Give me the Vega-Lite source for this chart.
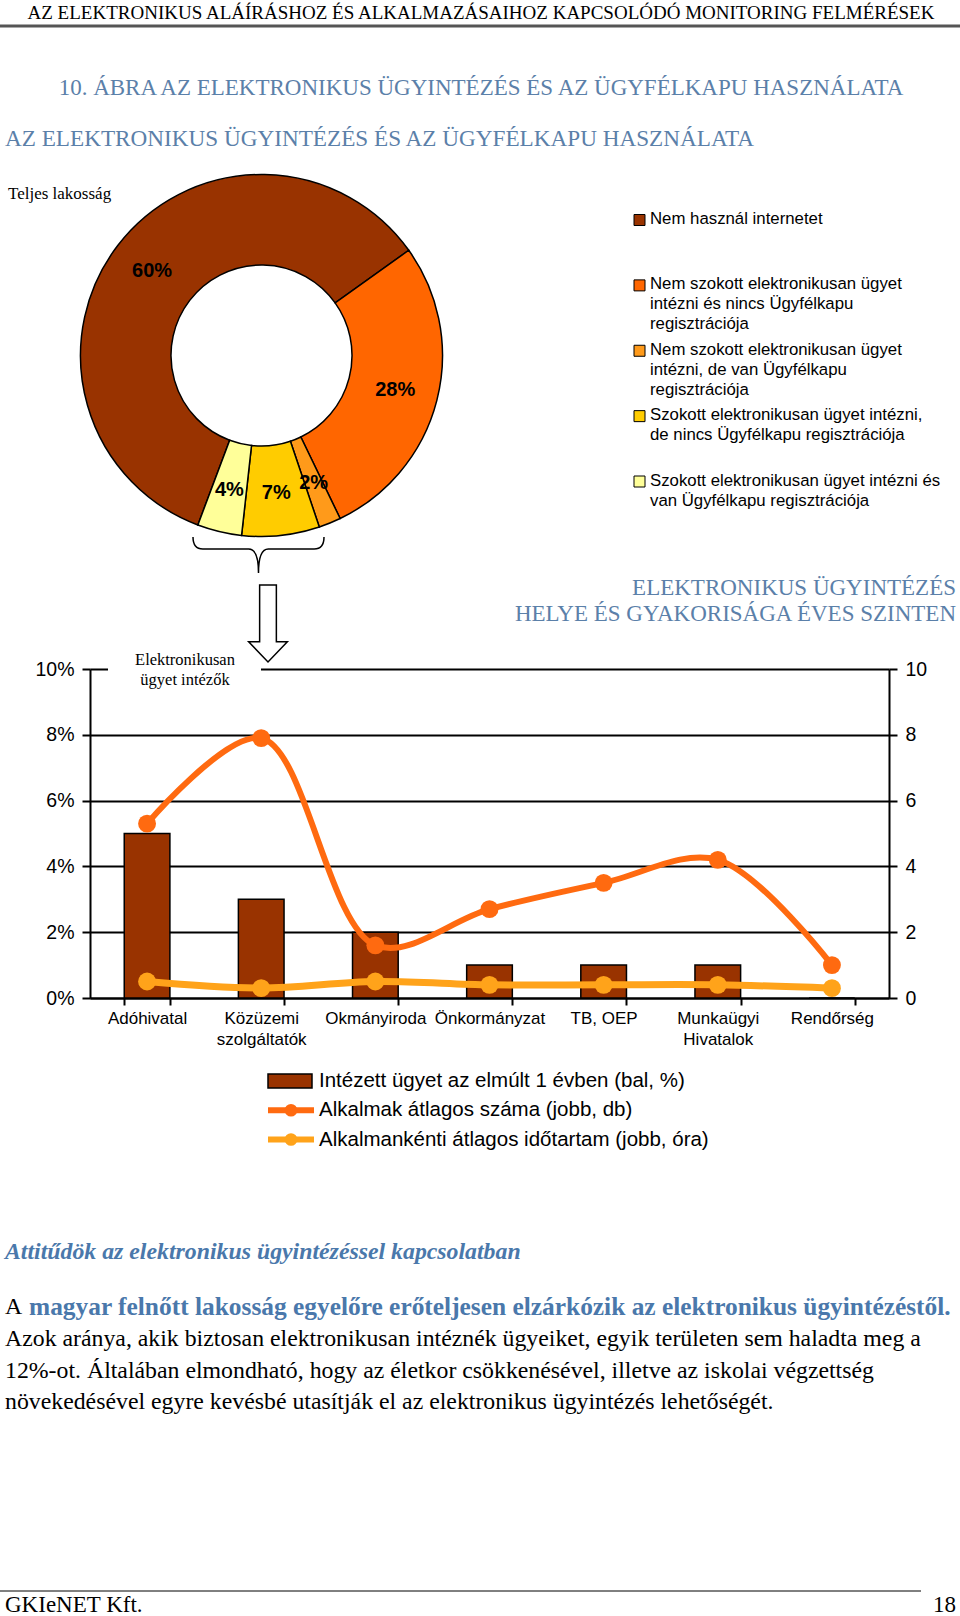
{
  "$schema": "https://vega.github.io/schema/vega-lite/v6.json",
  "width": 960,
  "height": 1616,
  "autosize": {"type": "none"},
  "padding": 0,
  "background": "white",
  "config": {
    "view": {"stroke": null},
    "axis": {"domainColor": "black", "tickColor": "black", "gridColor": "black", "labelColor": "black", "labelFont": "Liberation Sans"}
  },
  "data": {"values": [{}]},
  "datasets": {
    "slices": [
      {"cat": "Nem használ internetet", "label": "Nem használ internetet", "pct": 0.60, "seq": 1},
      {"cat": "Nem szokott elektronikusan ügyet intézni és nincs Ügyfélkapu regisztrációja", "label": "Nem szokott elektronikusan ügyet\nintézni és nincs Ügyfélkapu\nregisztrációja", "pct": 0.28, "seq": 2},
      {"cat": "Nem szokott elektronikusan ügyet intézni, de van Ügyfélkapu regisztrációja", "label": "Nem szokott elektronikusan ügyet\nintézni, de van Ügyfélkapu\nregisztrációja", "pct": 0.02, "seq": 3},
      {"cat": "Szokott elektronikusan ügyet intézni, de nincs Ügyfélkapu regisztrációja", "label": "Szokott elektronikusan ügyet intézni,\nde nincs Ügyfélkapu regisztrációja", "pct": 0.07, "seq": 4},
      {"cat": "Szokott elektronikusan ügyet intézni és van Ügyfélkapu regisztrációja", "label": "Szokott elektronikusan ügyet intézni és\nvan Ügyfélkapu regisztrációja", "pct": 0.04, "seq": 5}
    ],
    "offices": [
      {"office": "Adóhivatal", "pct": 5, "count": 5.3, "hours": 0.5},
      {"office": "Közüzemi szolgáltatók", "pct": 3, "count": 7.9, "hours": 0.3},
      {"office": "Okmányiroda", "pct": 2, "count": 1.6, "hours": 0.5},
      {"office": "Önkormányzat", "pct": 1, "count": 2.7, "hours": 0.4},
      {"office": "TB, OEP", "pct": 1, "count": 3.5, "hours": 0.4},
      {"office": "Munkaügyi Hivatalok", "pct": 1, "count": 4.2, "hours": 0.4},
      {"office": "Rendőrség", "pct": 0, "count": 1.0, "hours": 0.3}
    ],
    "series": [
      {"s": "Intézett ügyet az elmúlt 1 évben (bal, %)", "kind": "bar"},
      {"s": "Alkalmak átlagos száma (jobb, db)", "kind": "line"},
      {"s": "Alkalmankénti átlagos időtartam (jobb, óra)", "kind": "line"}
    ]
  },
  "layer": [
    {
      "layer": [
        {
          "mark": {"type": "text", "font": "Liberation Serif", "fontSize": 19, "color": "black"},
          "encoding": {
            "x": {"datum": 481, "type": "quantitative", "scale": {"domain": [0, 960], "range": [0, 960], "nice": false, "zero": false}, "axis": null},
            "y": {"datum": 13, "type": "quantitative", "scale": {"domain": [0, 1616], "range": [0, 1616], "nice": false, "zero": false}, "axis": null},
            "text": {"value": "AZ ELEKTRONIKUS ALÁÍRÁSHOZ ÉS ALKALMAZÁSAIHOZ KAPCSOLÓDÓ MONITORING FELMÉRÉSEK"}
          }
        },
        {
          "mark": {"type": "rule", "color": "#555555", "strokeWidth": 3},
          "encoding": {
            "x": {"datum": 0, "type": "quantitative", "scale": {"domain": [0, 960], "range": [0, 960], "nice": false, "zero": false}, "axis": null},
            "x2": {"datum": 960},
            "y": {"datum": 26, "type": "quantitative", "scale": {"domain": [0, 1616], "range": [0, 1616], "nice": false, "zero": false}, "axis": null}
          }
        },
        {
          "mark": {"type": "text", "font": "Liberation Serif", "fontSize": 23, "color": "#5b80a9"},
          "encoding": {
            "x": {"datum": 481, "type": "quantitative", "scale": {"domain": [0, 960], "range": [0, 960], "nice": false, "zero": false}, "axis": null},
            "y": {"datum": 88, "type": "quantitative", "scale": {"domain": [0, 1616], "range": [0, 1616], "nice": false, "zero": false}, "axis": null},
            "text": {"value": "10. ÁBRA AZ ELEKTRONIKUS ÜGYINTÉZÉS ÉS AZ ÜGYFÉLKAPU HASZNÁLATA"}
          }
        },
        {
          "mark": {"type": "text", "font": "Liberation Serif", "fontSize": 23.2, "color": "#5b80a9", "align": "left"},
          "encoding": {
            "x": {"datum": 5, "type": "quantitative", "scale": {"domain": [0, 960], "range": [0, 960], "nice": false, "zero": false}, "axis": null},
            "y": {"datum": 139, "type": "quantitative", "scale": {"domain": [0, 1616], "range": [0, 1616], "nice": false, "zero": false}, "axis": null},
            "text": {"value": "AZ ELEKTRONIKUS ÜGYINTÉZÉS ÉS AZ ÜGYFÉLKAPU HASZNÁLATA"}
          }
        },
        {
          "mark": {"type": "text", "font": "Liberation Serif", "fontSize": 17, "color": "black", "align": "left"},
          "encoding": {
            "x": {"datum": 8, "type": "quantitative", "scale": {"domain": [0, 960], "range": [0, 960], "nice": false, "zero": false}, "axis": null},
            "y": {"datum": 194, "type": "quantitative", "scale": {"domain": [0, 1616], "range": [0, 1616], "nice": false, "zero": false}, "axis": null},
            "text": {"value": "Teljes lakosság"}
          }
        },
        {
          "data": {"name": "slices"},
          "mark": {"type": "arc", "innerRadius": 90.5, "outerRadius": 181, "stroke": "black", "strokeWidth": 1.5},
          "encoding": {
            "x": {"datum": 261.5, "type": "quantitative", "scale": {"domain": [0, 960], "range": [0, 960], "nice": false, "zero": false}, "axis": null},
            "y": {"datum": 355.5, "type": "quantitative", "scale": {"domain": [0, 1616], "range": [0, 1616], "nice": false, "zero": false}, "axis": null},
            "theta": {"field": "pct", "type": "quantitative", "stack": true, "scale": {"domain": [0, 1.01], "range": [3.501, 9.784], "nice": false, "zero": true}},
            "order": {"field": "seq", "type": "quantitative"},
            "color": {
              "field": "cat", "type": "nominal", "legend": null,
              "scale": {
                "domain": ["Nem használ internetet", "Nem szokott elektronikusan ügyet intézni és nincs Ügyfélkapu regisztrációja", "Nem szokott elektronikusan ügyet intézni, de van Ügyfélkapu regisztrációja", "Szokott elektronikusan ügyet intézni, de nincs Ügyfélkapu regisztrációja", "Szokott elektronikusan ügyet intézni és van Ügyfélkapu regisztrációja"],
                "range": ["#993300", "#ff6600", "#ff9a1a", "#ffcc00", "#ffff99"]
              }
            }
          }
        },
        {
          "data": {"name": "slices"},
          "mark": {"type": "text", "radius": 138, "font": "Liberation Sans", "fontWeight": "bold", "fontSize": 20, "color": "black"},
          "encoding": {
            "x": {"datum": 261.5, "type": "quantitative", "scale": {"domain": [0, 960], "range": [0, 960], "nice": false, "zero": false}, "axis": null},
            "y": {"datum": 355.5, "type": "quantitative", "scale": {"domain": [0, 1616], "range": [0, 1616], "nice": false, "zero": false}, "axis": null},
            "theta": {"field": "pct", "type": "quantitative", "stack": true},
            "order": {"field": "seq", "type": "quantitative"},
            "text": {"field": "pct", "type": "quantitative", "format": ".0%"}
          }
        },
        {
          "mark": {"type": "point", "shape": "M -1 -0.275 Q -1 -0.092 -0.85 -0.092 L -0.15 -0.092 Q 0 -0.092 0 0.275 Q 0 -0.092 0.15 -0.092 L 0.85 -0.092 Q 1 -0.092 1 -0.275", "size": 17161, "filled": false, "stroke": "black", "strokeWidth": 1.5, "opacity": 1},
          "encoding": {
            "x": {"datum": 258.5, "type": "quantitative", "scale": {"domain": [0, 960], "range": [0, 960], "nice": false, "zero": false}, "axis": null},
            "y": {"datum": 555, "type": "quantitative", "scale": {"domain": [0, 1616], "range": [0, 1616], "nice": false, "zero": false}, "axis": null}
          }
        },
        {
          "mark": {"type": "point", "shape": "M -0.209 -0.9625 L 0.209 -0.9625 L 0.209 0.455 L 0.484 0.455 L 0 0.9625 L -0.484 0.455 L -0.209 0.455 Z", "size": 6400, "filled": true, "fill": "white", "stroke": "black", "strokeWidth": 1.5, "opacity": 1},
          "encoding": {
            "x": {"datum": 268, "type": "quantitative", "scale": {"domain": [0, 960], "range": [0, 960], "nice": false, "zero": false}, "axis": null},
            "y": {"datum": 623.5, "type": "quantitative", "scale": {"domain": [0, 1616], "range": [0, 1616], "nice": false, "zero": false}, "axis": null}
          }
        },
        {
          "mark": {"type": "text", "font": "Liberation Serif", "fontSize": 23, "color": "#5b80a9", "align": "right"},
          "encoding": {
            "x": {"datum": 956, "type": "quantitative", "scale": {"domain": [0, 960], "range": [0, 960], "nice": false, "zero": false}, "axis": null},
            "y": {"datum": 588, "type": "quantitative", "scale": {"domain": [0, 1616], "range": [0, 1616], "nice": false, "zero": false}, "axis": null},
            "text": {"value": "ELEKTRONIKUS ÜGYINTÉZÉS"}
          }
        },
        {
          "mark": {"type": "text", "font": "Liberation Serif", "fontSize": 23, "color": "#5b80a9", "align": "right"},
          "encoding": {
            "x": {"datum": 956, "type": "quantitative", "scale": {"domain": [0, 960], "range": [0, 960], "nice": false, "zero": false}, "axis": null},
            "y": {"datum": 614, "type": "quantitative", "scale": {"domain": [0, 1616], "range": [0, 1616], "nice": false, "zero": false}, "axis": null},
            "text": {"value": "HELYE ÉS GYAKORISÁGA ÉVES SZINTEN"}
          }
        },
        {
          "mark": {"type": "rect", "color": "white"},
          "encoding": {
            "x": {"datum": 108, "type": "quantitative", "scale": {"domain": [0, 960], "range": [0, 960], "nice": false, "zero": false}, "axis": null},
            "x2": {"datum": 261},
            "y": {"datum": 663, "type": "quantitative", "scale": {"domain": [0, 1616], "range": [0, 1616], "nice": false, "zero": false}, "axis": null},
            "y2": {"datum": 675}
          }
        },
        {
          "mark": {"type": "text", "font": "Liberation Serif", "fontSize": 16.5, "color": "black"},
          "encoding": {
            "x": {"datum": 185, "type": "quantitative", "scale": {"domain": [0, 960], "range": [0, 960], "nice": false, "zero": false}, "axis": null},
            "y": {"datum": 660, "type": "quantitative", "scale": {"domain": [0, 1616], "range": [0, 1616], "nice": false, "zero": false}, "axis": null},
            "text": {"value": "Elektronikusan"}
          }
        },
        {
          "mark": {"type": "text", "font": "Liberation Serif", "fontSize": 16.5, "color": "black"},
          "encoding": {
            "x": {"datum": 185, "type": "quantitative", "scale": {"domain": [0, 960], "range": [0, 960], "nice": false, "zero": false}, "axis": null},
            "y": {"datum": 680, "type": "quantitative", "scale": {"domain": [0, 1616], "range": [0, 1616], "nice": false, "zero": false}, "axis": null},
            "text": {"value": "ügyet intézők"}
          }
        },
        {
          "mark": {"type": "text", "font": "Liberation Serif", "fontSize": 23.8, "fontWeight": "bold", "fontStyle": "italic", "color": "#4a78ab", "align": "left"},
          "encoding": {
            "x": {"datum": 5, "type": "quantitative", "scale": {"domain": [0, 960], "range": [0, 960], "nice": false, "zero": false}, "axis": null},
            "y": {"datum": 1252, "type": "quantitative", "scale": {"domain": [0, 1616], "range": [0, 1616], "nice": false, "zero": false}, "axis": null},
            "text": {"value": "Attitűdök az elektronikus ügyintézéssel kapcsolatban"}
          }
        },
        {
          "mark": {"type": "text", "font": "Liberation Serif", "fontSize": 23.8, "color": "black", "align": "left"},
          "encoding": {
            "x": {"datum": 5, "type": "quantitative", "scale": {"domain": [0, 960], "range": [0, 960], "nice": false, "zero": false}, "axis": null},
            "y": {"datum": 1307, "type": "quantitative", "scale": {"domain": [0, 1616], "range": [0, 1616], "nice": false, "zero": false}, "axis": null},
            "text": {"value": "A"}
          }
        },
        {
          "mark": {"type": "text", "font": "Liberation Serif", "fontSize": 25.4, "fontWeight": "bold", "color": "#4a78ab", "align": "left"},
          "encoding": {
            "x": {"datum": 29, "type": "quantitative", "scale": {"domain": [0, 960], "range": [0, 960], "nice": false, "zero": false}, "axis": null},
            "y": {"datum": 1307, "type": "quantitative", "scale": {"domain": [0, 1616], "range": [0, 1616], "nice": false, "zero": false}, "axis": null},
            "text": {"value": "magyar felnőtt lakosság egyelőre erőteljesen elzárkózik az elektronikus ügyintézéstől."}
          }
        },
        {
          "mark": {"type": "text", "font": "Liberation Serif", "fontSize": 23.8, "color": "black", "align": "left"},
          "encoding": {
            "x": {"datum": 5, "type": "quantitative", "scale": {"domain": [0, 960], "range": [0, 960], "nice": false, "zero": false}, "axis": null},
            "y": {"datum": 1339, "type": "quantitative", "scale": {"domain": [0, 1616], "range": [0, 1616], "nice": false, "zero": false}, "axis": null},
            "text": {"value": "Azok aránya, akik biztosan elektronikusan intéznék ügyeiket, egyik területen sem haladta meg a"}
          }
        },
        {
          "mark": {"type": "text", "font": "Liberation Serif", "fontSize": 23.8, "color": "black", "align": "left"},
          "encoding": {
            "x": {"datum": 5, "type": "quantitative", "scale": {"domain": [0, 960], "range": [0, 960], "nice": false, "zero": false}, "axis": null},
            "y": {"datum": 1371, "type": "quantitative", "scale": {"domain": [0, 1616], "range": [0, 1616], "nice": false, "zero": false}, "axis": null},
            "text": {"value": "12%-ot. Általában elmondható, hogy az életkor csökkenésével, illetve az iskolai végzettség"}
          }
        },
        {
          "mark": {"type": "text", "font": "Liberation Serif", "fontSize": 23.8, "color": "black", "align": "left"},
          "encoding": {
            "x": {"datum": 5, "type": "quantitative", "scale": {"domain": [0, 960], "range": [0, 960], "nice": false, "zero": false}, "axis": null},
            "y": {"datum": 1402, "type": "quantitative", "scale": {"domain": [0, 1616], "range": [0, 1616], "nice": false, "zero": false}, "axis": null},
            "text": {"value": "növekedésével egyre kevésbé utasítják el az elektronikus ügyintézés lehetőségét."}
          }
        },
        {
          "mark": {"type": "rule", "color": "black", "strokeWidth": 1},
          "encoding": {
            "x": {"datum": 0, "type": "quantitative", "scale": {"domain": [0, 960], "range": [0, 960], "nice": false, "zero": false}, "axis": null},
            "x2": {"datum": 921},
            "y": {"datum": 1591, "type": "quantitative", "scale": {"domain": [0, 1616], "range": [0, 1616], "nice": false, "zero": false}, "axis": null}
          }
        },
        {
          "mark": {"type": "text", "font": "Liberation Serif", "fontSize": 23, "color": "black", "align": "left"},
          "encoding": {
            "x": {"datum": 5, "type": "quantitative", "scale": {"domain": [0, 960], "range": [0, 960], "nice": false, "zero": false}, "axis": null},
            "y": {"datum": 1605, "type": "quantitative", "scale": {"domain": [0, 1616], "range": [0, 1616], "nice": false, "zero": false}, "axis": null},
            "text": {"value": "GKIeNET Kft."}
          }
        },
        {
          "mark": {"type": "text", "font": "Liberation Serif", "fontSize": 23, "color": "black", "align": "right"},
          "encoding": {
            "x": {"datum": 956, "type": "quantitative", "scale": {"domain": [0, 960], "range": [0, 960], "nice": false, "zero": false}, "axis": null},
            "y": {"datum": 1605, "type": "quantitative", "scale": {"domain": [0, 1616], "range": [0, 1616], "nice": false, "zero": false}, "axis": null},
            "text": {"value": "18"}
          }
        }
      ]
    },
    {
      "data": {"name": "slices"},
      "layer": [
        {
          "mark": {"type": "point", "shape": "square", "filled": true, "size": 121, "stroke": "black", "strokeWidth": 1, "opacity": 1},
          "encoding": {
            "x": {"datum": 639.5, "type": "quantitative", "scale": {"domain": [0, 960], "range": [0, 960], "nice": false, "zero": false}, "axis": null},
            "y": {"field": "cat", "type": "nominal", "sort": null, "axis": null, "scale": {"type": "point", "domain": ["Nem használ internetet", "Nem szokott elektronikusan ügyet intézni és nincs Ügyfélkapu regisztrációja", "Nem szokott elektronikusan ügyet intézni, de van Ügyfélkapu regisztrációja", "Szokott elektronikusan ügyet intézni, de nincs Ügyfélkapu regisztrációja", "Szokott elektronikusan ügyet intézni és van Ügyfélkapu regisztrációja"], "range": [220, 481.5], "padding": 0}},
            "color": {
              "field": "cat", "type": "nominal", "legend": null,
              "scale": {
                "domain": ["Nem használ internetet", "Nem szokott elektronikusan ügyet intézni és nincs Ügyfélkapu regisztrációja", "Nem szokott elektronikusan ügyet intézni, de van Ügyfélkapu regisztrációja", "Szokott elektronikusan ügyet intézni, de nincs Ügyfélkapu regisztrációja", "Szokott elektronikusan ügyet intézni és van Ügyfélkapu regisztrációja"],
                "range": ["#993300", "#ff6600", "#ff9a1a", "#ffcc00", "#ffff99"]
              }
            }
          }
        },
        {
          "mark": {"type": "text", "font": "Liberation Sans", "fontSize": 16.8, "color": "black", "align": "left", "baseline": "top", "dy": -9, "lineBreak": "\n", "lineHeight": 20},
          "encoding": {
            "x": {"datum": 650, "type": "quantitative", "scale": {"domain": [0, 960], "range": [0, 960], "nice": false, "zero": false}, "axis": null},
            "y": {"field": "cat", "type": "nominal", "sort": null, "axis": null},
            "text": {"field": "label"}
          }
        }
      ]
    },
    {
      "data": {"name": "offices"},
      "encoding": {
        "x": {
          "field": "office", "type": "nominal", "sort": null,
          "scale": {"type": "band", "domain": ["Adóhivatal", "Közüzemi szolgáltatók", "Okmányiroda", "Önkormányzat", "TB, OEP", "Munkaügyi Hivatalok", "Rendőrség"], "range": [90, 889], "paddingInner": 0.6, "paddingOuter": 0.3},
          "axis": {"orient": "bottom", "offset": -618, "title": null, "domainWidth": 2, "tickBand": "extent", "tickSize": 7, "tickWidth": 2, "labelFontSize": 17, "labelPadding": 5, "labelLineHeight": 21, "labelAngle": 0, "labelBaseline": "top", "grid": false, "labelExpr": "datum.label == 'TB, OEP' ? datum.label : split(datum.label, ' ')"}
        }
      },
      "layer": [
        {
          "mark": {"type": "bar", "color": "#993300", "stroke": "black", "strokeWidth": 1.5},
          "encoding": {
            "y": {"field": "pct", "type": "quantitative", "scale": {"domain": [0, 10], "range": [998, 669], "nice": false}, "axis": {"orient": "left", "offset": -90, "title": null, "values": [0, 2, 4, 6, 8, 10], "labelExpr": "datum.value + '%'", "grid": true, "gridWidth": 2, "domainWidth": 2, "tickSize": 8, "tickWidth": 2, "labelFontSize": 19.5, "labelPadding": 8}}
          }
        },
        {
          "mark": {"type": "line", "color": "#ff6a10", "strokeWidth": 6, "interpolate": "catmull-rom", "point": {"filled": true, "size": 320, "color": "#ff6a10", "opacity": 1}},
          "encoding": {
            "y": {"field": "count", "type": "quantitative", "scale": {"domain": [0, 10], "range": [998, 669], "nice": false}, "axis": {"orient": "right", "offset": -71, "title": null, "values": [0, 2, 4, 6, 8, 10], "grid": false, "domainWidth": 2, "tickSize": 8, "tickWidth": 2, "labelFontSize": 19.5, "labelPadding": 8}}
          }
        },
        {
          "mark": {"type": "line", "color": "#ffa31a", "strokeWidth": 7, "interpolate": "catmull-rom", "point": {"filled": true, "size": 320, "color": "#ffa31a", "opacity": 1}},
          "encoding": {
            "y": {"field": "hours", "type": "quantitative", "scale": {"domain": [0, 10], "range": [998, 669], "nice": false}, "axis": null}
          }
        }
      ],
      "resolve": {"scale": {"y": "independent"}}
    },
    {
      "data": {"name": "series"},
      "encoding": {
        "y": {"field": "s", "type": "nominal", "sort": null, "axis": null, "scale": {"type": "point", "domain": ["Intézett ügyet az elmúlt 1 évben (bal, %)", "Alkalmak átlagos száma (jobb, db)", "Alkalmankénti átlagos időtartam (jobb, óra)"], "range": [1081, 1139.5], "padding": 0}},
        "color": {"field": "s", "type": "nominal", "legend": null, "scale": {"domain": ["Intézett ügyet az elmúlt 1 évben (bal, %)", "Alkalmak átlagos száma (jobb, db)", "Alkalmankénti átlagos időtartam (jobb, óra)"], "range": ["#993300", "#ff6a10", "#ffa31a"]}}
      },
      "layer": [
        {
          "transform": [{"filter": "datum.kind == 'bar'"}],
          "mark": {"type": "point", "shape": "M -1 -0.318 L 1 -0.318 L 1 0.318 L -1 0.318 Z", "size": 1936, "filled": true, "stroke": "black", "strokeWidth": 1.5, "opacity": 1},
          "encoding": {
            "x": {"datum": 290, "type": "quantitative", "scale": {"domain": [0, 960], "range": [0, 960], "nice": false, "zero": false}, "axis": null}
          }
        },
        {
          "transform": [{"filter": "datum.kind == 'line'"}],
          "mark": {"type": "point", "shape": "stroke", "size": 2116, "filled": false, "strokeWidth": 6, "opacity": 1},
          "encoding": {
            "x": {"datum": 291, "type": "quantitative", "scale": {"domain": [0, 960], "range": [0, 960], "nice": false, "zero": false}, "axis": null}
          }
        },
        {
          "transform": [{"filter": "datum.kind == 'line'"}],
          "mark": {"type": "point", "shape": "circle", "size": 160, "filled": true, "opacity": 1},
          "encoding": {
            "x": {"datum": 291, "type": "quantitative", "scale": {"domain": [0, 960], "range": [0, 960], "nice": false, "zero": false}, "axis": null}
          }
        },
        {
          "mark": {"type": "text", "font": "Liberation Sans", "fontSize": 20.5, "align": "left", "baseline": "middle"},
          "encoding": {
            "x": {"datum": 319, "type": "quantitative", "scale": {"domain": [0, 960], "range": [0, 960], "nice": false, "zero": false}, "axis": null},
            "text": {"field": "s"},
            "color": {"value": "black"}
          }
        }
      ]
    }
  ],
  "resolve": {"scale": {"x": "independent", "y": "independent", "color": "independent"}}
}
